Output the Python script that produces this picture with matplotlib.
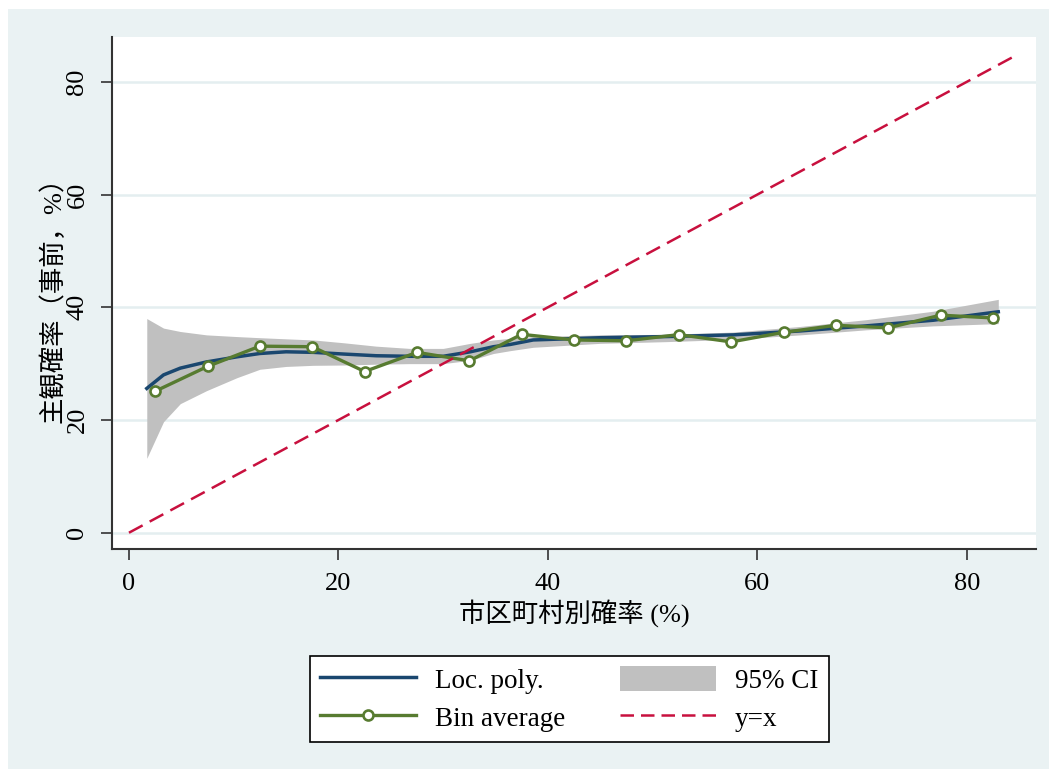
import numpy as np
import matplotlib
matplotlib.use("Agg")
import matplotlib.pyplot as plt
import matplotlib.patches as patches
from matplotlib.lines import Line2D

plt.rcParams['font.family'] = ['Liberation Serif', 'Noto Sans CJK JP']
plt.rcParams['axes.unicode_minus'] = False

# local polynomial fit and its 95% CI
lp_x = [1.7, 3.3, 4.9, 7.4, 10.3, 12.5, 15.0, 17.6, 20.5, 23.6, 26.8, 30.0, 32.6, 34.8,
        36.4, 38.6, 45.0, 51.3, 57.7, 64.1, 70.4, 76.8, 83.0]
lp_y = [25.6, 28.0, 29.2, 30.3, 31.2, 31.8, 32.1, 32.0, 31.7, 31.4, 31.3, 31.3, 32.1, 33.0,
        33.4, 34.2, 34.6, 34.8, 35.1, 35.8, 36.7, 37.7, 39.2]
ci_hi = [38.0, 36.3, 35.7, 35.1, 34.8, 34.6, 34.4, 34.2, 33.7, 33.1, 32.7, 32.7, 33.6, 34.2,
         34.5, 34.8, 35.1, 35.2, 35.6, 36.6, 37.8, 39.3, 41.4]
ci_lo = [13.2, 19.7, 22.9, 25.2, 27.5, 29.0, 29.5, 29.7, 29.75, 29.9, 30.0, 30.0, 30.6, 31.8,
         32.3, 32.9, 33.6, 33.9, 34.3, 35.1, 36.0, 36.7, 37.1]

# bin averages
bin_x = [2.5, 7.5, 12.5, 17.5, 22.5, 27.5, 32.5, 37.5, 42.5, 47.5, 52.5, 57.5, 62.5,
         67.5, 72.5, 77.5, 82.5]
bin_y = [25.1, 29.5, 33.1, 33.0, 28.6, 32.0, 30.5, 35.2, 34.2, 34.05, 35.15, 33.85, 35.55,
         36.8, 36.35, 38.6, 38.1]

diag = [0, 84.7]

NAVY = '#1a476f'
GREEN = '#577b30'
RED = '#c8103e'
CI_GRAY = '#c0c0c0'
BG = '#eaf2f3'
GRID = '#e4eef0'
FS = 19

W, H = 1049, 769
fig = plt.figure(figsize=(W / 100, H / 100), dpi=100, facecolor='white')
fig.patches.append(patches.Rectangle((8 / W, 0), 1 - 8 / W, 1 - 9 / H,
                                     transform=fig.transFigure, facecolor=BG,
                                     edgecolor='none', zorder=-10))

ax = fig.add_axes([112 / W, 1 - 549.3 / H, (1036 - 112) / W, (549.3 - 36.7) / H])
ax.set_facecolor('white')

ax.fill_between(lp_x, ci_lo, ci_hi, color=CI_GRAY, linewidth=0, zorder=2)
ax.plot(lp_x, lp_y, color=NAVY, linewidth=2.5, zorder=3)
ax.plot(bin_x, bin_y, color=GREEN, linewidth=2.4, marker='o', markersize=7.2,
        markerfacecolor='white', markeredgecolor=GREEN, markeredgewidth=1.9, zorder=4)
ax.plot(diag, diag, color=RED, linewidth=1.8, dashes=(6.2, 3.2), zorder=5)

ax.set_xlim(-1.62, 86.6)
ax.set_ylim(-2.94, 88.0)
ax.set_xticks([0, 20, 40, 60, 80])
ax.set_yticks([0, 20, 40, 60, 80])
ax.yaxis.grid(True, color=GRID, linewidth=1.8, zorder=0)
ax.set_axisbelow(True)

for s in ['top', 'right']:
    ax.spines[s].set_visible(False)
for s in ['left', 'bottom']:
    ax.spines[s].set_linewidth(1.5)
    ax.spines[s].set_color('#333333')

ax.tick_params(axis='both', direction='out', length=8, width=1.2, color='#333333',
               labelsize=FS, pad=9)
for lab in ax.get_yticklabels():
    lab.set_rotation(90)
    lab.set_va('center')

ax.set_xlabel('市区町村別確率 (%)', fontsize=FS, labelpad=3)
ax.set_ylabel('主観確率（事前，%）', fontsize=FS, labelpad=1)

handles = [
    Line2D([], [], color=NAVY, linewidth=2.5),
    Line2D([], [], color=GREEN, linewidth=2.4, marker='o', markersize=7.2,
           markerfacecolor='white', markeredgecolor=GREEN, markeredgewidth=1.9),
    patches.Patch(facecolor=CI_GRAY, edgecolor='none'),
    Line2D([], [], color=RED, linewidth=1.8, dashes=(5.4, 2.8)),
]
labels = ['Loc. poly.', 'Bin average', '95% CI', 'y=x']
leg = fig.legend(handles, labels, ncol=2, loc='upper left',
                 bbox_to_anchor=(310 / W, 1 - 656 / H), borderaxespad=0,
                 fontsize=19.5, frameon=True, fancybox=False, framealpha=1,
                 edgecolor='black', handlelength=3.55, handleheight=1.05,
                 handletextpad=0.7, columnspacing=2.0, labelspacing=0.36,
                 borderpad=0.38, numpoints=1)
leg.get_frame().set_linewidth(1.2)

fig.savefig('out.png', dpi=100, facecolor=fig.get_facecolor())
